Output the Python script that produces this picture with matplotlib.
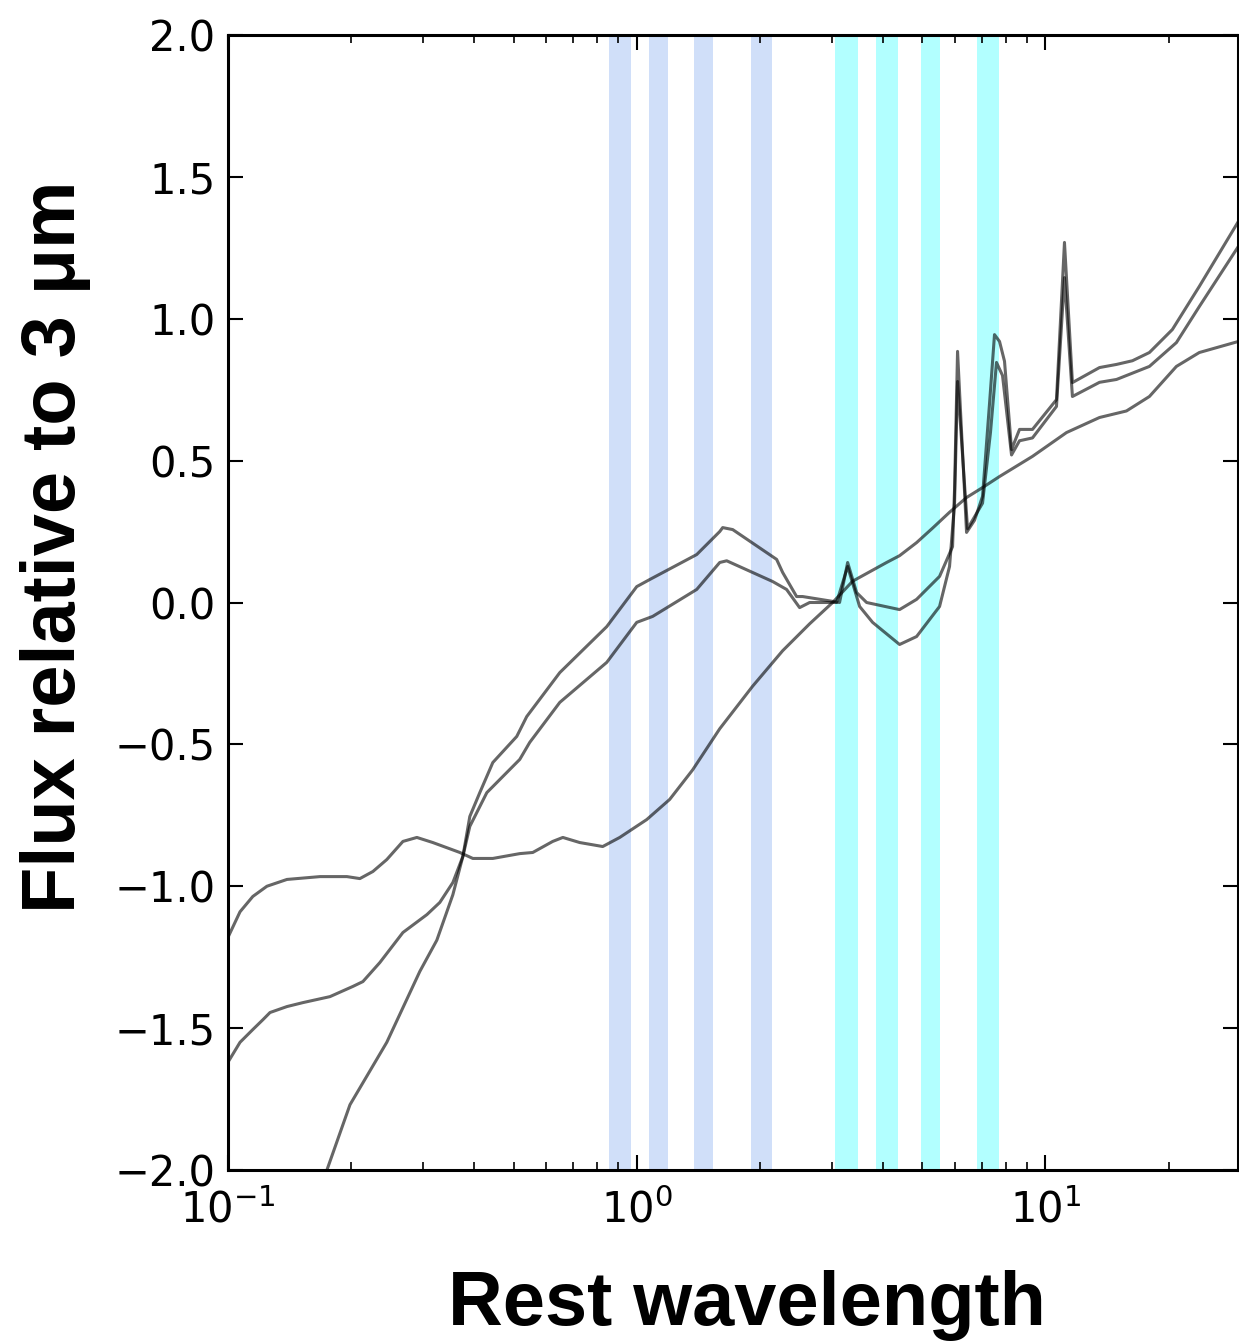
import matplotlib
matplotlib.use('Agg')
import matplotlib.pyplot as plt
import numpy as np

# filter bands (rest frame, micron)
nir_lo = [0.854, 1.070, 1.383, 1.900]
nir_hi = [0.967, 1.194, 1.540, 2.148]
irac_lo = [3.057, 3.841, 4.963, 6.811]
irac_hi = [3.477, 4.345, 5.527, 7.692]

# template 1: smooth one, no PAH features
lam_flat = [0.100, 0.107, 0.115, 0.1245, 0.1394, 0.168, 0.1954, 0.2102, 0.2262,
            0.2446, 0.2679, 0.2898, 0.3171, 0.3692, 0.3972, 0.4445, 0.5174,
            0.5567, 0.6230, 0.6595, 0.7255, 0.8257, 0.9087, 1.058, 1.204,
            1.370, 1.596, 1.921, 2.275, 2.649, 3.015, 3.374, 4.086, 4.396,
            4.838, 5.293, 5.825, 6.411, 7.015, 7.720, 9.295, 11.26, 13.56,
            15.78, 17.96, 20.91, 23.79, 29.65]
flux_flat = [-1.18, -1.09, -1.036, -1.0, -0.976, -0.966, -0.966, -0.973, -0.948,
             -0.906, -0.842, -0.828, -0.846, -0.881, -0.902, -0.902, -0.885,
             -0.881, -0.842, -0.828, -0.846, -0.860, -0.828, -0.765, -0.694,
             -0.590, -0.445, -0.295, -0.170, -0.075, 0.0, 0.075, 0.141, 0.165,
             0.211, 0.262, 0.318, 0.37, 0.405, 0.444, 0.515, 0.599, 0.652,
             0.675, 0.726, 0.832, 0.881, 0.920]

# template 2: PAH, deeper 4.4 um dip
lam_pah1 = [0.100, 0.107, 0.115, 0.1218, 0.1267, 0.1394, 0.1526, 0.1776, 0.2021,
            0.2138, 0.2352, 0.2679, 0.3066, 0.3298, 0.3549, 0.3755, 0.3905,
            0.4298, 0.5174, 0.5473, 0.6483, 0.8446, 1.0, 1.094, 1.402, 1.596,
            1.660, 2.150, 2.326, 2.503, 2.649, 3.083, 3.281, 3.510, 3.776,
            4.396, 4.838, 5.507, 5.825, 5.992, 6.094, 6.447, 7.015, 7.337,
            7.589, 7.851, 8.260, 8.640, 9.295, 10.64, 11.13, 11.64, 13.56,
            14.92, 17.96, 20.91, 23.79, 29.65]
flux_pah1 = [-1.62, -1.55, -1.505, -1.47, -1.445, -1.424, -1.41, -1.389, -1.353,
             -1.336, -1.269, -1.163, -1.10, -1.057, -0.987, -0.895, -0.789,
             -0.670, -0.553, -0.493, -0.352, -0.211, -0.070, -0.049, 0.046, 0.141,
             0.147, 0.074, 0.046, -0.018, 0.0, 0.0, 0.127, -0.014, -0.070,
             -0.148, -0.120, -0.014, 0.127, 0.35, 0.779, 0.26, 0.35, 0.60,
             0.846, 0.80, 0.52, 0.57, 0.58, 0.691, 1.145, 0.726, 0.776,
             0.786, 0.832, 0.916, 1.043, 1.255]

# template 3: PAH, steep UV
lam_pah2 = [0.165, 0.1746, 0.1988, 0.2446, 0.2947, 0.3243, 0.3549, 0.3755, 0.3905,
            0.4131, 0.4445, 0.5087, 0.5381, 0.6483, 0.8446, 1.0, 1.076, 1.402,
            1.596, 1.623, 1.717, 2.199, 2.275, 2.461, 2.546, 3.015, 3.135,
            3.281, 3.451, 3.651, 4.396, 4.838, 5.507, 5.925, 5.992, 6.094,
            6.411, 6.706, 7.015, 7.296, 7.504, 7.720, 7.940, 8.260, 8.640,
            9.295, 10.64, 11.13, 11.64, 13.56, 14.92, 16.32, 17.96, 20.44,
            23.79, 29.65]
flux_pah2 = [-2.1, -2.0, -1.77, -1.55, -1.30, -1.19, -1.03, -0.895, -0.754,
             -0.670, -0.564, -0.472, -0.402, -0.247, -0.085, 0.056, 0.081, 0.169,
             0.250, 0.264, 0.257, 0.152, 0.106, 0.021, 0.021, 0.004, 0.0,
             0.141, 0.035, 0.0, -0.025, 0.011, 0.092, 0.197, 0.40, 0.885,
             0.247, 0.29, 0.374, 0.70, 0.944, 0.92, 0.85, 0.539, 0.61,
             0.61, 0.715, 1.269, 0.775, 0.828, 0.839, 0.852, 0.881, 0.962,
             1.114, 1.343]

W, H = 1239, 1343
fig = plt.figure(figsize=(W / 100, H / 100), dpi=100)
ax = fig.add_axes([228 / W, 173 / H, (1237.5 - 228) / W, 1135 / H])

for lo, hi in zip(nir_lo, nir_hi):
    ax.axvspan(lo, hi, color='cornflowerblue', alpha=0.3, lw=0)
for lo, hi in zip(irac_lo, irac_hi):
    ax.axvspan(lo, hi, color='cyan', alpha=0.3, lw=0)

for lam, flux in [(lam_flat, flux_flat), (lam_pah1, flux_pah1), (lam_pah2, flux_pah2)]:
    ax.plot(lam, flux, color='k', alpha=0.6, lw=2.2, solid_joinstyle='round')

ax.set_xscale('log')
ax.set_xlim(0.1, 29.5)
ax.set_ylim(-2.0, 2.0)
ax.set_yticks(np.arange(-2.0, 2.01, 0.5))

for s in ax.spines.values():
    s.set_linewidth(2.2)
ax.tick_params(which='both', direction='in', top=True, right=True, labelsize=30)
ax.tick_params(which='major', length=11, width=1.5)
ax.tick_params(axis='y', which='major', pad=9)
ax.tick_params(axis='x', which='major', pad=14)
ax.tick_params(which='minor', length=5.5, width=1.2)

fig.text(75 / W, 1 - 547 / H, 'Flux relative to 3 \u03bcm', rotation=90,
         rotation_mode='anchor', ha='center', va='baseline',
         fontsize=54.5, fontweight='bold', family='Liberation Sans')
fig.text(747 / W, 1 - 1325 / H, 'Rest wavelength', ha='center', va='baseline',
         fontsize=54.5, fontweight='bold', family='Liberation Sans')

fig.savefig('out.png', dpi=100)
